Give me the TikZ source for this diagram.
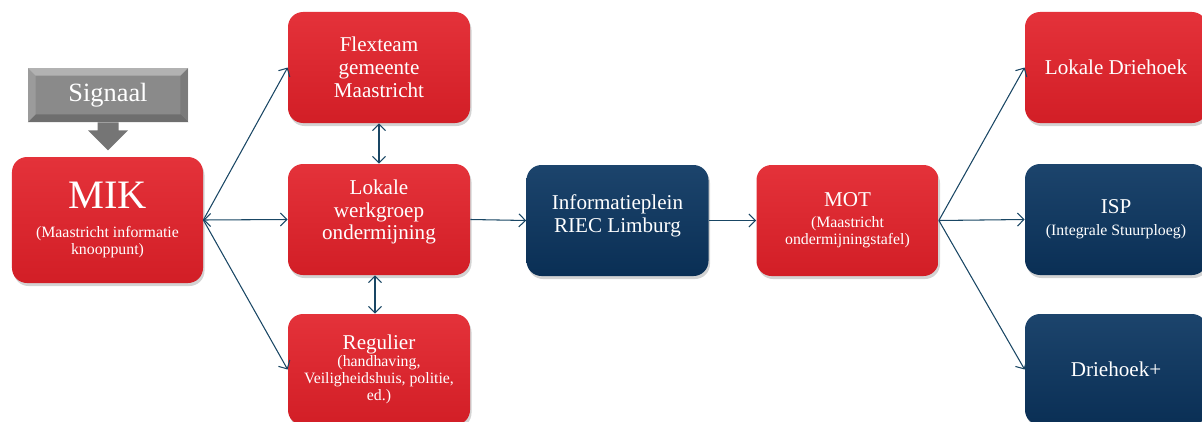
\documentclass[tikz,border=0pt]{standalone}
\usepackage{fontspec}
\setmainfont{Liberation Serif}
\usetikzlibrary{shadows,arrows.meta}

\definecolor{mikred}{RGB}{210,30,38}
\definecolor{mikredtop}{RGB}{228,50,58}
\definecolor{riecblue}{RGB}{10,47,85}
\definecolor{riecbluetop}{RGB}{28,68,108}
\definecolor{linkblue}{RGB}{25,70,100}
\definecolor{signalgray}{RGB}{138,138,138}

\newcommand{\klein}{\fontsize{9}{9.8}\selectfont}

\begin{document}
\begin{tikzpicture}[
  box/.style={rounded corners=0.3cm, minimum width=3.64cm, minimum height=2.22cm,
    text width=3.4cm, align=flush center, text=white, inner sep=0pt,
    font=\fontsize{12}{13}\selectfont,
    drop shadow={opacity=0.35,shadow xshift=0.03cm,shadow yshift=-0.06cm}},
  redbox/.style={box, top color=mikredtop, middle color=mikred, bottom color=mikred},
  bluebox/.style={box, top color=riecbluetop, middle color=riecblue, bottom color=riecblue},
  link/.style={draw=linkblue, line width=0.6pt},
  >={Straight Barb[length=1.3mm,width=2.6mm]}
]
\useasboundingbox (0,0) rectangle (24.04,8.42);

% signaal
\node[fill=signalgray, text=white, minimum width=3.2cm, minimum height=1.08cm,
  inner sep=0pt, font=\fontsize{15}{16}\selectfont] (sig) at (2.16,6.52) {Signaal};
\fill[white, opacity=0.35] (sig.north west) -- (sig.north east)
  -- ([shift={(-0.16,-0.16)}]sig.north east) -- ([shift={(0.16,-0.16)}]sig.north west) -- cycle;
\fill[black, opacity=0.2] (sig.south west) -- (sig.south east)
  -- ([shift={(-0.16,0.16)}]sig.south east) -- ([shift={(0.16,0.16)}]sig.south west) -- cycle;
\fill[white, opacity=0.15] (sig.north west) -- ([shift={(0.16,-0.16)}]sig.north west)
  -- ([shift={(0.16,0.16)}]sig.south west) -- (sig.south west) -- cycle;
\fill[black, opacity=0.1] (sig.north east) -- ([shift={(-0.16,-0.16)}]sig.north east)
  -- ([shift={(-0.16,0.16)}]sig.south east) -- (sig.south east) -- cycle;
\fill[signalgray!85!black] ([xshift=-0.21cm]sig.south) -- ++(0,-0.16) -- ++(-0.19,0)
  -- ++(0.4,-0.4) -- ++(0.4,0.4) -- ++(-0.19,0) -- ++(0,0.16) -- cycle;

% first column
\node[redbox, minimum width=3.82cm, minimum height=2.52cm] (mik) at (2.15,4.02)
  {\fontsize{23}{24}\selectfont MIK\par\vspace{0.22cm}
   \klein (Maastricht informatie\\ knooppunt)\par};

% second column
\node[redbox] (flex) at (7.58,7.07) {Flexteam\\ gemeente\\ Maastricht\par};
\node[redbox] (lwo) at (7.58,4.03) {Lokale\\ werkgroep\\ ondermijning\par\vspace{0.3cm}};
\node[redbox] (reg) at (7.58,1.03)
  {Regulier\par\klein (handhaving,\\ Veiligheidshuis, politie,\\ ed.)\par};

% middle
\node[bluebox] (riec) at (12.35,4.01) {Informatieplein\\ RIEC Limburg\par\vspace{0.2cm}};
\node[redbox] (mot) at (16.95,4.01)
  {MOT\par\vspace{0.05cm}\fontsize{9}{10}\selectfont (Maastricht\\ ondermijningstafel)\par};

% last column
\node[redbox] (ldh) at (22.32,7.07) {Lokale Driehoek};
\node[bluebox] (isp) at (22.32,4.03) {ISP\par\vspace{0.1cm}\klein (Integrale Stuurploeg)\par};
\node[bluebox] (dhp) at (22.32,1.03) {Driehoek+};

% connectors
\draw[link,->] (mik.east) -- (flex.west);
\draw[link,<->] (mik.east) -- (lwo.west);
\draw[link,->] (mik.east) -- (reg.west);
\draw[link,<->] (flex.south) -- (lwo.north);
\draw[link,<->] ([xshift=-0.08cm]lwo.south) -- ([xshift=-0.08cm]reg.north);
\draw[link,->] (lwo.east) -- (riec.west);
\draw[link,->] (riec.east) -- (mot.west);
\draw[link,->] (mot.east) -- (ldh.west);
\draw[link,->] (mot.east) -- (isp.west);
\draw[link,->] (mot.east) -- (dhp.west);
\end{tikzpicture}
\end{document}
